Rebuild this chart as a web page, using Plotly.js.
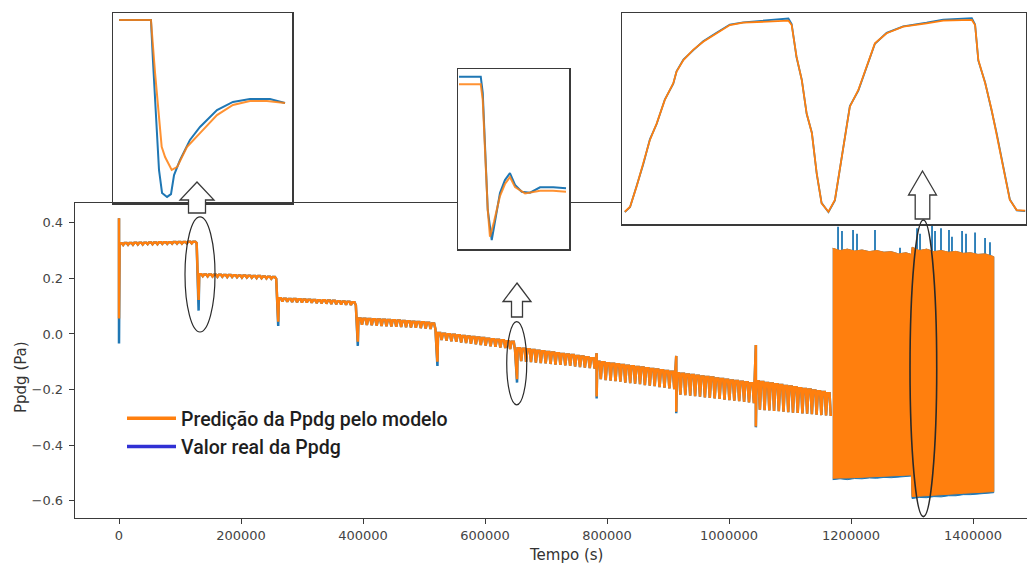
<!DOCTYPE html>
<html>
<head>
<meta charset="utf-8">
<script src="https://cdn.plot.ly/plotly-3.0.1.min.js"></script>
<style>html,body{margin:0;padding:0;background:#fff;}#chart{width:1027px;height:568px;}</style>
</head>
<body>
<div id="chart"></div>
<script>
// ---------------- DATA ----------------
const xTickVals = [0, 200000, 400000, 600000, 800000, 1000000, 1200000, 1400000];
const yTickVals = [-0.6, -0.4, -0.2, 0.0, 0.2, 0.4];

// step segments (time in s)
const segStart = [0, 130500, 261000, 391500, 522000, 652500, 783000, 913500, 1044000];
const segEnd   = [130500, 261000, 391500, 522000, 652500, 783000, 913500, 1044000, 1170000];
const spikeUp  = [0.416, null, null, null, null, null, -0.069, -0.079, -0.040];
const dropPred = [0.056, 0.122, 0.044, -0.028, -0.100, -0.163, -0.225, -0.280, -0.333];
const dropReal = [-0.034, 0.084, 0.029, -0.043, -0.115, -0.175, -0.232, -0.285, -0.336];

// saw-tooth values inside each segment (top, bottom, top, bottom, ...)
const teeth0 = [0.326,0.320,0.327,0.321,0.327,0.321,0.328,0.322,0.328,0.322,0.328,0.323,0.329,0.323,0.329,0.323,0.330,0.324,0.330,0.324,0.330,0.325,0.331,0.325,0.331,0.325,0.331,0.326,0.332,0.326,0.332,0.327];
const teeth1 = [0.215,0.208,0.214,0.207,0.214,0.207,0.213,0.206,0.213,0.206,0.212,0.205,0.212,0.205,0.211,0.204,0.210,0.203,0.210,0.203,0.209,0.202,0.208,0.201,0.208,0.201,0.207,0.200,0.206,0.199,0.205,0.198];
const teeth2 = [0.128,0.117,0.127,0.116,0.126,0.115,0.126,0.114,0.125,0.113,0.124,0.113,0.123,0.112,0.122,0.111,0.121,0.110,0.121,0.109,0.120,0.108,0.119,0.107,0.118,0.106,0.117,0.105,0.116,0.104,0.114,0.103];
const teeth3 = [0.056,0.033,0.055,0.032,0.054,0.031,0.053,0.030,0.052,0.029,0.051,0.028,0.050,0.027,0.049,0.026,0.048,0.025,0.047,0.024,0.046,0.023,0.044,0.022,0.043,0.021,0.042,0.020,0.040,0.018,0.038,0.017];
const teeth4 = [0.003,-0.022,0.001,-0.024,-0.001,-0.026,-0.003,-0.028,-0.005,-0.031,-0.007,-0.033,-0.009,-0.035,-0.011,-0.037,-0.013,-0.040,-0.015,-0.042,-0.017,-0.044,-0.019,-0.046,-0.021,-0.049,-0.023,-0.051,-0.026,-0.054,-0.028,-0.058];
const teeth5 = [-0.051,-0.098,-0.053,-0.100,-0.055,-0.101,-0.058,-0.103,-0.060,-0.105,-0.062,-0.106,-0.065,-0.108,-0.067,-0.110,-0.069,-0.111,-0.072,-0.113,-0.074,-0.115,-0.076,-0.117,-0.079,-0.119,-0.081,-0.121,-0.084,-0.123,-0.087,-0.125];
const teeth6 = [-0.100,-0.163,-0.102,-0.166,-0.105,-0.168,-0.107,-0.170,-0.109,-0.172,-0.112,-0.175,-0.114,-0.177,-0.116,-0.179,-0.119,-0.181,-0.121,-0.184,-0.123,-0.186,-0.126,-0.188,-0.128,-0.191,-0.131,-0.193,-0.133,-0.196,-0.136,-0.199];
const teeth7 = [-0.141,-0.218,-0.143,-0.220,-0.146,-0.222,-0.148,-0.224,-0.150,-0.226,-0.153,-0.228,-0.155,-0.230,-0.157,-0.232,-0.160,-0.234,-0.162,-0.236,-0.165,-0.238,-0.167,-0.240,-0.169,-0.242,-0.172,-0.244,-0.174,-0.246,-0.177,-0.249];
const teeth8 = [-0.170,-0.272,-0.173,-0.274,-0.176,-0.275,-0.178,-0.277,-0.181,-0.278,-0.184,-0.280,-0.187,-0.281,-0.189,-0.283,-0.192,-0.284,-0.195,-0.286,-0.198,-0.287,-0.200,-0.289,-0.203,-0.290,-0.206,-0.292,-0.209,-0.293,-0.213,-0.295];
const teeth = [teeth0, teeth1, teeth2, teeth3, teeth4, teeth5, teeth6, teeth7, teeth8];

// dense oscillation band (envelope)
const bandX = [1170000,1182000,1194000,1206000,1218000,1230000,1242000,1254000,1266000,1278000,1290000,1299000,1300000,1312000,1324000,1336000,1348000,1360000,1372000,1384000,1396000,1408000,1420000,1434000];
const bandTop = [0.308,0.300,0.305,0.298,0.302,0.296,0.300,0.294,0.296,0.288,0.292,0.286,0.312,0.300,0.305,0.296,0.300,0.294,0.297,0.290,0.292,0.286,0.288,0.278];
const bandBottomPred = [-0.519,-0.518,-0.518,-0.517,-0.516,-0.515,-0.514,-0.513,-0.512,-0.510,-0.508,-0.507,-0.585,-0.584,-0.582,-0.580,-0.578,-0.577,-0.575,-0.573,-0.571,-0.570,-0.568,-0.567];
const bandBottomReal = [-0.524,-0.521,-0.524,-0.520,-0.521,-0.518,-0.519,-0.516,-0.517,-0.514,-0.513,-0.511,-0.592,-0.588,-0.589,-0.585,-0.586,-0.582,-0.582,-0.578,-0.578,-0.575,-0.574,-0.571];
const spikeX = [1178700,1185200,1203300,1209800,1239300,1280300,1308200,1313100,1332800,1337700,1347500,1360600,1365500,1382000,1388500,1403300,1419700,1427800];
const spikePeak = [0.386,0.370,0.374,0.360,0.374,0.310,0.380,0.360,0.390,0.370,0.380,0.374,0.350,0.370,0.360,0.365,0.345,0.330];

// zoom insets (relative units 0-100)
const inset1PredT = [3.4,21.2,23.5,27.2,29.1,32.8,35.8,41.3,48.6,58.1,67.0,76.5,86.0,96.1];
const inset1Pred  = [96.3,96.3,68.4,29.6,24.2,17.4,18.9,29.5,36.8,46.3,51.6,53.7,53.7,52.6];
const inset1RealT = [3.4,21.2,22.3,24.0,25.7,27.4,30.2,32.4,34.1,37.4,43.0,48.6,58.1,67.0,76.5,87.7,96.1];
const inset1Real  = [96.3,96.3,75.3,43.7,17.4,5.3,3.2,4.7,14.7,22.6,33.2,40.0,48.9,53.2,54.7,54.7,52.6];

const inset2PredT = [0.9,20.5,22.3,24.3,26.8,28.8,32.4,37.8,42.3,46.8,51.4,60.4,73.9,85.6,97.3];
const inset2Pred  = [91.5,91.5,82.8,55.0,21.7,6.8,15.0,29.4,36.1,40.0,34.4,30.9,32.4,32.4,31.8];
const inset2RealT = [0.9,20.5,22.3,24.3,26.8,30.4,33.3,37.8,42.3,46.8,51.4,57.4,64.9,73.9,85.9,97.3];
const inset2Real  = [95.7,95.7,86.7,58.9,21.7,5.0,16.1,31.1,38.3,42.2,35.6,31.8,31.3,34.3,34.3,33.7];

const inset3T = [0.7,2.0,3.6,5.3,6.9,8.6,10.6,12.7,13.5,15.2,17.6,20.1,23.4,26.7,30.0,34.2,38.3,41.2,42.0,43.2,44.5,45.7,47.0,48.2,49.4,51.1,52.7,54.0,54.8,56.4,58.5,60.6,62.6,65.5,69.6,75.4,79.5,86.6,87.4,88.2,89.9,91.5,92.7,94.4,96.0,97.7,99.8];
const inset3Pred = [5.8,8.2,17.7,28.8,39.8,47.7,58.8,66.7,72.2,77.7,82.5,86.4,90.4,94.3,95.4,95.9,96.4,96.4,94.3,79.3,68.2,52.5,43.0,24.0,9.8,5.8,11.4,27.2,38.2,55.6,63.5,74.5,85.6,90.4,93.5,95.1,96.4,96.7,94.3,77.7,66.7,54.0,43.0,27.2,11.4,6.6,6.3];
const inset3Real = [5.6,8.0,17.9,28.6,40.1,47.5,59.0,66.5,72.4,77.9,82.3,86.6,90.6,94.5,95.6,96.3,97.2,97.4,94.8,79.0,68.4,52.2,43.3,23.7,10.0,5.6,11.2,27.5,38.0,55.9,63.2,74.8,85.4,90.6,93.7,95.4,96.9,97.5,94.6,77.4,66.9,53.7,43.3,26.9,11.6,6.4,6.1];

const namePred = 'Predição da Ppdg pelo modelo';
const nameReal = 'Valor real da Ppdg';

// ---------------- STYLE / LAYOUT ----------------
const ORANGE = '#ff7f0e', BLUE = '#1f77b4', FRAME = '#3a3a3a';
const W = 1027, H = 568;
const fx = p => p / W, fy = p => 1 - p / H;

// each tooth: flat top, then a sharp dip to its bottom value (comb shape)
function buildSeries(drops) {
  const xs = [], ys = [];
  for (let i = 0; i < segStart.length; i++) {
    const s = segStart[i], e = segEnd[i], t = teeth[i];
    if (spikeUp[i] !== null) { xs.push(s); ys.push(spikeUp[i]); }
    xs.push(s); ys.push(drops[i]);
    const n = t.length / 2;
    const p = (e - s - 2000) / n;
    for (let k = 0; k < n; k++) {
      const x = s + 1000 + k * p;
      xs.push(x, x + 0.45 * p, x + 0.72 * p);
      ys.push(t[2 * k], t[2 * k], t[2 * k + 1]);
    }
  }
  return { xs, ys };
}
const pred = buildSeries(dropPred);
const real = buildSeries(dropReal);

const spX = [], spY = [];
spikeX.forEach((x, i) => { spX.push(x, x, null); spY.push(0.26, spikePeak[i], null); });

const rev = a => a.slice().reverse();

const traces = [
  // real (blue) underneath
  { x: real.xs, y: real.ys, mode: 'lines', line: { color: BLUE, width: 2.5 }, showlegend: false, hoverinfo: 'skip' },
  { x: bandX.concat(rev(bandX)), y: bandTop.concat(rev(bandBottomReal)), mode: 'lines', fill: 'toself',
    fillcolor: BLUE, line: { color: BLUE, width: 1 }, showlegend: false, hoverinfo: 'skip' },
  { x: spX, y: spY, mode: 'lines', line: { color: BLUE, width: 1.8 }, showlegend: false, hoverinfo: 'skip' },
  // predicted (orange) on top
  { x: pred.xs, y: pred.ys, mode: 'lines', line: { color: ORANGE, width: 2.5 }, showlegend: false, hoverinfo: 'skip' },
  { x: bandX.concat(rev(bandX)), y: bandTop.concat(rev(bandBottomPred)), mode: 'lines', fill: 'toself',
    fillcolor: ORANGE, line: { color: ORANGE, width: 1 }, showlegend: false, hoverinfo: 'skip' },
  // legend entries
  { x: [null], y: [null], mode: 'lines', name: namePred, legendgroup: 'a', line: { color: ORANGE, width: 3.5 } },
  { x: [null], y: [null], mode: 'lines', name: nameReal, legendgroup: 'b', line: { color: '#3030d4', width: 3.5 } },
  // insets
  { x: inset1RealT, y: inset1Real, xaxis: 'x2', yaxis: 'y2', mode: 'lines', line: { color: BLUE, width: 2 }, showlegend: false },
  { x: inset1PredT, y: inset1Pred, xaxis: 'x2', yaxis: 'y2', mode: 'lines', line: { color: ORANGE, width: 2 }, opacity: 0.85, showlegend: false },
  { x: inset2RealT, y: inset2Real, xaxis: 'x3', yaxis: 'y3', mode: 'lines', line: { color: BLUE, width: 2 }, showlegend: false },
  { x: inset2PredT, y: inset2Pred, xaxis: 'x3', yaxis: 'y3', mode: 'lines', line: { color: ORANGE, width: 2 }, opacity: 0.85, showlegend: false },
  { x: inset3T, y: inset3Real, xaxis: 'x4', yaxis: 'y4', mode: 'lines', line: { color: BLUE, width: 1.8 }, showlegend: false },
  { x: inset3T, y: inset3Pred, xaxis: 'x4', yaxis: 'y4', mode: 'lines', line: { color: ORANGE, width: 1.8 }, showlegend: false }
];

const tickFont = { family: 'DejaVu Sans', size: 13, color: '#444' };
function insetAxis(domain, anchor) {
  return { domain: domain, anchor: anchor, range: [0, 100], showticklabels: false, ticks: '', showgrid: false,
           zeroline: false, showline: true, mirror: true, linecolor: FRAME, linewidth: 1.5, fixedrange: true };
}

function arrowPath(pts) {
  return 'M' + pts.map(p => fx(p[0]) + ',' + fy(p[1])).join(' L') + ' Z';
}
function arrow(tipX, tipY, headY, halfHead, halfShaft, bottomY) {
  return { type: 'path', xref: 'paper', yref: 'paper', layer: 'above', fillcolor: 'white',
    line: { color: FRAME, width: 1.3 },
    path: arrowPath([[tipX, tipY], [tipX + halfHead, headY], [tipX + halfShaft, headY], [tipX + halfShaft, bottomY],
                     [tipX - halfShaft, bottomY], [tipX - halfShaft, headY], [tipX - halfHead, headY]]) };
}
function ellipse(x0, x1, y0, y1, w) {
  return { type: 'circle', xref: 'x', yref: 'y', x0: x0, x1: x1, y0: y0, y1: y1, layer: 'above',
           line: { color: '#2a2a2a', width: w }, fillcolor: 'rgba(0,0,0,0)' };
}

const layout = {
  width: W, height: H, margin: { l: 0, r: 0, t: 0, b: 0 },
  paper_bgcolor: 'white', plot_bgcolor: 'white',
  showlegend: true,
  legend: { x: fx(122), y: fy(399), xanchor: 'left', yanchor: 'top', bgcolor: 'rgba(0,0,0,0)',
            font: { family: 'Roboto', size: 19.5, color: '#1e1e1e', weight: 500 }, tracegroupgap: 0, itemwidth: 49 },
  xaxis: { domain: [fx(75), 1], anchor: 'y', range: [-72130, 1488480], tickvals: xTickVals, tickformat: 'd',
           showline: true, mirror: true, linecolor: FRAME, linewidth: 1.3, ticks: 'outside', ticklen: 5,
           tickcolor: FRAME, tickfont: tickFont, showgrid: false, zeroline: false },
  yaxis: { domain: [fy(518), fy(203)], anchor: 'x', range: [-0.662, 0.471], tickvals: yTickVals, tickformat: '.1f',
           showline: true, mirror: true, linecolor: FRAME, linewidth: 1.3, ticks: 'outside', ticklen: 5,
           tickcolor: FRAME, tickfont: tickFont, showgrid: false, zeroline: false, ticklabelstandoff: 3 },
  xaxis2: insetAxis([fx(113), fx(292)], 'y2'), yaxis2: insetAxis([fy(203), fy(13)], 'x2'),
  xaxis3: insetAxis([fx(458), fx(569)], 'y3'), yaxis3: insetAxis([fy(249), fy(69)], 'x3'),
  xaxis4: insetAxis([fx(622), fx(1026)], 'y4'), yaxis4: insetAxis([fy(224), fy(13)], 'x4'),
  annotations: [
    { text: 'Tempo (s)', xref: 'paper', yref: 'paper', x: fx(566), y: fy(555), xanchor: 'center', yanchor: 'middle',
      showarrow: false, font: { family: 'DejaVu Sans', size: 15, color: '#333' } },
    { text: 'Ppdg (Pa)', xref: 'paper', yref: 'paper', x: fx(21), y: fy(377), xanchor: 'center', yanchor: 'middle',
      textangle: -90, showarrow: false, font: { family: 'DejaVu Sans', size: 15, color: '#333' } }
  ],
  shapes: [
    ellipse(108200, 157400, 0.007, 0.421, 1.2),
    ellipse(635600, 668400, -0.255, 0.044, 1.2),
    ellipse(1296700, 1340500, -0.657, 0.410, 1.6),
    arrow(197, 182, 200, 17, 8.5, 213),
    arrow(517, 283, 301.5, 14, 5.5, 317),
    arrow(922.5, 171, 195, 14, 7.3, 219)
  ]
};

Plotly.newPlot('chart', traces, layout, { staticPlot: true, displayModeBar: false });
</script>
</body>
</html>
